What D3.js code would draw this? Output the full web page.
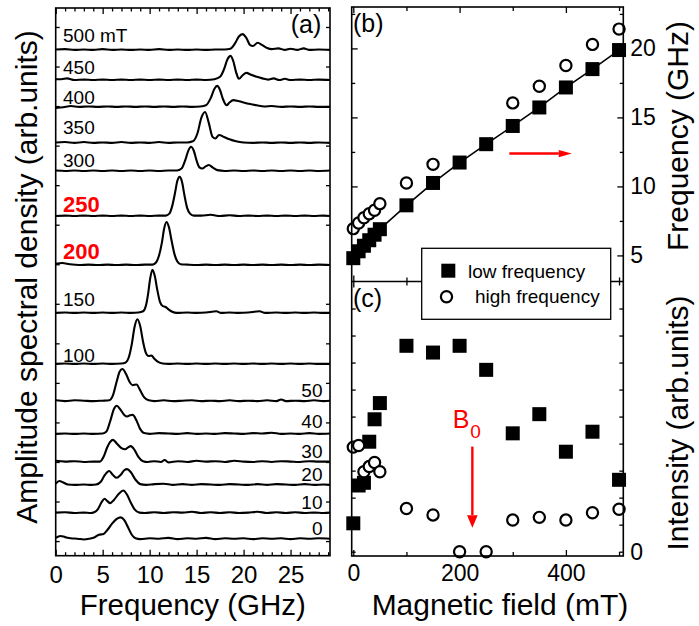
<!DOCTYPE html>
<html>
<head>
<meta charset="utf-8">
<script src="https://cdn.jsdelivr.net/npm/d3@7"></script>
<style>
  body { margin: 0; background: #fff; }
  svg { display: block; }
  text { font-family: "Liberation Sans", Arial, Helvetica, sans-serif; fill: #000; }
</style>
</head>
<body>
<svg id="fig" width="699" height="626"></svg>
<script>
// ---------- Panel (a): spectra stacked by applied field ----------
const fieldsA = [0, 10, 20, 30, 40, 50, 100, 150, 200, 250, 300, 350, 400, 450, 500];
// vertical offset of each spectrum (arb. units, 10 per tick)
const offsetsA = [0.5, 7.1, 14.2, 20, 27.1, 35.4, 44.8, 57.7, 69.8, 82.2, 93.6, 100.7, 109.8, 116.6, 124.2];
const labelsA = ["0", "10", "20", "30", "40", "50", "100", "150", "200", "250", "300", "350", "400", "450", "500 mT"];
const highlightA = ["200", "250"];

// spectra: [frequency GHz, amplitude arb. units]
const spec0 = [[0,0.3],[0.5,0.8],[1,0.5],[1.6,0.2],[2.3,0.1],[3,-0.1],[3.6,0.1],[4.1,0.4],[4.6,1.1],[5.1,1.3],[5.5,2.3],[6,3.9],[6.5,5.1],[6.9,5.5],[7.3,4.8],[7.7,3],[8.1,1.1],[8.5,0.2],[9,0],[10,0.2],[11,0.1],[12,0.3],[13,0],[14,0.2],[15,0.1],[16,0.3],[17,0],[18,0.2],[19,0.1],[20,0.2],[21,0],[22,0.2],[23,0.1],[24,0.2],[25,0],[26,0.2],[27,0.1],[28,0.2],[29.2,0.1]];
const spec10 = [[0,0.1],[1,0.2],[2,0],[3,0.1],[3.7,0],[4.1,0.2],[4.5,1.0],[4.9,2.8],[5.2,3.6],[5.5,3.0],[5.8,2.5],[6.2,3.3],[6.7,4.8],[7.2,5.7],[7.6,4.6],[8,2.6],[8.4,0.9],[8.9,0.1],[9.5,0],[10.5,0.2],[11.5,0],[12.5,0.2],[13.5,0.1],[14.5,0.3],[15.5,0],[16.5,0.2],[17.5,0],[18.5,0.2],[19.5,0],[20.5,0.1],[21.5,0.3],[22.5,0],[23.5,0.2],[24.5,0],[25.5,0.2],[26.5,0],[27.5,0.1],[28.5,0],[29.2,0.1]];
const spec20 = [[0,0.3],[0.4,1.0],[0.8,0.6],[1.3,0.1],[2,0],[3,0.1],[3.8,0],[4.3,0.1],[4.8,0.8],[5.2,2.4],[5.7,3.5],[6.1,2.5],[6.5,1.8],[6.9,2.5],[7.3,3.7],[7.6,4.0],[8,3.2],[8.5,1.3],[9,0.2],[9.6,0],[10.5,0.2],[11.5,0.3],[12.5,0],[13.5,0.2],[14.5,0],[15.5,0.2],[16.5,0.1],[17.5,0],[18.5,0.2],[19.5,0.1],[20.5,0],[21.5,0.2],[22.5,0],[23.5,0.2],[24.5,0.1],[25.5,0],[26.5,0.2],[27.5,0],[28.5,0.1],[29.2,0]];
const spec30 = [[0,0.3],[1,0.1],[2,0.2],[3,0],[4,0.1],[4.7,0.1],[5.1,1.3],[5.5,3.8],[5.8,5.1],[6.1,5.6],[6.5,4.7],[7,3.5],[7.4,3.2],[7.7,3.7],[8,4.0],[8.4,3.0],[8.8,1.3],[9.3,0.2],[9.8,0],[10.5,0.2],[11.2,0],[11.6,0.5],[12,-0.1],[13,0.2],[14,0],[15,0.3],[16,0.1],[17,0.2],[18,0],[19,0.3],[20,0.1],[21,0],[22,0.2],[23,0],[24,0.2],[25,0.1],[26,0],[27,0.2],[28,0.1],[29.2,0.1]];
const spec40 = [[0,0],[1,0.1],[2,0],[3,0.1],[4,0],[5,0.1],[5.4,0.6],[5.8,3.2],[6.2,6.3],[6.5,7.1],[6.9,6.1],[7.3,4.8],[7.6,4.4],[7.9,4.7],[8.2,4.8],[8.6,3.4],[9,1.2],[9.4,0.2],[10,0],[11,0.2],[12,0.1],[13,0],[14,0.2],[15,0],[16,0.1],[17,0],[18,0.2],[19,0.1],[20,0],[21,0.2],[22,0.1],[23,0.3],[24,0],[25,0.1],[26,0],[27,0.2],[28,0],[29.2,0.1]];
const spec50 = [[0,0.2],[1,0],[2,0.2],[3,0.1],[4,0],[5,0.1],[5.7,0.2],[6.1,1.5],[6.5,5.0],[6.8,7.4],[7.1,8.1],[7.5,6.8],[7.9,4.7],[8.2,4.0],[8.6,4.2],[9,2.7],[9.4,1.0],[9.9,0.2],[10.5,0],[11.5,0.2],[12.5,0],[13.5,0.1],[14.5,0.2],[15.5,0],[16.5,0.1],[17.5,0],[18.5,0.2],[19.5,0],[20.5,0.1],[21.5,0],[22.5,0.2],[23.5,0],[24,0.4],[24.5,0],[25.5,0.1],[26.5,0],[27.5,0.2],[28.5,0],[29.2,0.1]];
const spec100 = [[0,0],[1,0.1],[2,0],[3,0.1],[4,0],[5,0.1],[6,0],[7,0.1],[7.4,0.3],[7.8,1.8],[8.1,5.0],[8.4,9.4],[8.7,11.3],[9,9.5],[9.3,5.6],[9.6,2.8],[9.9,2.0],[10.2,2.1],[10.5,1.3],[10.9,0.5],[11.4,0.1],[12,0],[13,0.1],[14,0],[15,0.1],[16,0],[17,0.1],[18,0],[19,0.1],[20,0],[21,0.1],[22,0],[23,0.1],[24,0],[25,0.1],[26,0],[27,0.1],[28,0],[29.2,0]];
const spec150 = [[0,0],[1,0.1],[2,0],[3,0.1],[4,0],[5,0.1],[6,0],[7,0.1],[8,0],[8.8,0.1],[9.3,0.4],[9.6,1.8],[9.85,5.0],[10.05,8.6],[10.3,10.9],[10.55,9.3],[10.8,6.0],[11.1,2.8],[11.4,1.7],[11.7,1.5],[12,0.9],[12.4,0.3],[12.9,0],[14,0.1],[15,0],[16,0.1],[17.1,0.4],[17.6,0],[18.5,0.1],[19.5,0],[20.5,0.1],[21.7,0.4],[22.3,0],[23.5,0.1],[24.5,0],[25.5,0.1],[26.5,0],[27.5,0.1],[28.5,0],[29.2,0]];
const spec200 = [[0,0.3],[0.7,0.5],[1.5,0.2],[2.5,0],[3.5,0.1],[4.5,0],[5.5,0.1],[6.5,0],[7.5,0.1],[8.5,0],[9.5,0.1],[10.3,0.1],[10.7,0.7],[11,2.4],[11.3,5.6],[11.55,9.3],[11.8,10.9],[12.05,9.6],[12.35,6.0],[12.65,2.7],[12.95,0.9],[13.3,0.2],[14,0.1],[15,0],[16,0.1],[17,0],[18,0.1],[19,0],[20,0.1],[21,0],[22,0.1],[23,0],[24,0.1],[25,0],[26,0.1],[27,0],[28,0.1],[29.2,0]];
const spec250 = [[0,0],[1,0.1],[2,0],[3,0.1],[4,0],[5,0.1],[6,0],[7,0.1],[8,0],[9,0.1],[10,0],[11,0.1],[11.7,0.1],[12.1,0.6],[12.4,2.5],[12.7,5.8],[12.95,8.9],[13.2,9.9],[13.45,8.6],[13.7,5.3],[14,2.0],[14.3,0.6],[14.7,0.1],[15.5,0.1],[16.5,0.3],[17.5,0],[18.5,0.2],[19.5,0],[20.5,0.1],[21.5,0],[22.5,0.1],[23.5,0],[24.5,0.1],[25.5,0],[26.5,0.1],[27.5,0],[28.5,0.1],[29.2,0]];
const spec300 = [[0,0.1],[1,0],[2,0.1],[3,0],[4,0.1],[5,0],[6,0.1],[7,0],[8,0.1],[9,0],[10,0.1],[11,0],[12,0.1],[12.9,0.1],[13.4,0.6],[13.8,2.8],[14.1,5.0],[14.4,6.1],[14.7,5.1],[15,2.6],[15.3,0.9],[15.6,0.6],[16,1.2],[16.3,1.5],[16.7,0.9],[17.2,0.2],[18,0],[19,0.1],[20,0],[21,0.1],[22,0],[23,0.1],[24,0],[25,0.1],[26,0],[27,0.1],[28,0],[29.2,0.1]];
const spec350 = [[0,0.1],[1,0.2],[2,0],[3,0.2],[4,0],[5,0.1],[6,0],[7,0.2],[8,0],[9,0.1],[10,0],[11,0.2],[12,0],[13,0.1],[14,0.1],[14.6,0.4],[15.1,2.5],[15.5,6.3],[15.9,7.8],[16.3,5.0],[16.7,1.5],[17,1.1],[17.4,2.0],[17.9,1.5],[18.5,0.9],[19.2,0.4],[20,0.1],[21,0],[22,0.1],[23,0],[24,0.1],[25,0],[26,0.1],[27,0],[28,0.1],[29.2,0]];
const spec400 = [[0,-0.3],[0.8,-0.1],[1.6,0.2],[2.5,0],[3.5,0.1],[4.5,0],[5.5,0.1],[6.5,0],[7.5,0.1],[8.5,0],[9.5,0.1],[10.5,0],[11.5,0.1],[12.5,0],[13.5,0.1],[14.5,0],[15.4,0.1],[16,0.4],[16.5,2.2],[16.9,4.6],[17.2,5.3],[17.5,4.2],[17.8,2.0],[18.2,0.4],[18.5,1.1],[18.9,1.7],[19.4,1.5],[20,1.1],[20.7,0.7],[21.4,0.4],[22.2,0.1],[23,0.2],[24,0],[25,0.1],[26,0],[27,0.1],[28,0],[29.2,0]];
const spec450 = [[0,0.2],[0.6,0.2],[1.2,0.4],[2,0],[3,0.1],[4,0],[5,0.1],[6,0],[7,0.1],[8,0],[9,0.1],[10,0],[11,0.1],[12,0],[13,0.1],[14,0],[15,0.1],[16,0],[16.9,0.2],[17.5,0.8],[17.9,2.6],[18.3,5.3],[18.6,6.1],[18.9,4.8],[19.2,2.0],[19.5,0.3],[19.9,1.2],[20.3,1.8],[20.8,1.3],[21.4,0.8],[22,0.4],[22.6,0.1],[23.2,0.4],[23.8,0],[24.4,0.3],[25,0],[26,0.1],[27,0],[28,0.1],[29.2,0]];
const spec500 = [[0,0.1],[1,0.2],[2,0],[3,0.1],[4,0],[5,0.2],[6,0],[7,0.1],[8,0],[9,0.1],[10,0],[11,0.2],[12,0],[13,0.1],[14,0],[15,0.1],[16,0],[17,0.1],[18,0.1],[18.6,0.3],[19.1,1.7],[19.5,3.4],[19.9,4.0],[20.3,3.0],[20.7,1.2],[21,1.0],[21.5,1.8],[22,1.2],[22.5,0.5],[23,0.2],[23.7,0.4],[24.4,0],[25,0.3],[25.7,0],[26.4,0.4],[27,0],[28,0.1],[29.2,0]];
const spectra = [spec0, spec10, spec20, spec30, spec40, spec50, spec100, spec150, spec200, spec250, spec300, spec350, spec400, spec450, spec500];

const freqTicksA = [0, 5, 10, 15, 20, 25];

// ---------- Panel (b): peak frequencies vs field ----------
const fieldsLow = [0, 10, 20, 30, 40, 50, 100, 150, 200, 250, 300, 350, 400, 450, 500];
const lowFreq = [4.8, 5.3, 5.7, 6.1, 6.5, 6.9, 8.63, 10.25, 11.73, 13.06, 14.38, 15.72, 17.17, 18.5, 19.88];
const fieldsHigh = [0, 10, 20, 30, 40, 50, 100, 150, 300, 350, 400, 450, 500];
const highFreq = [6.94, 7.35, 7.73, 8.02, 8.27, 8.75, 10.25, 11.6, 16.05, 17.26, 18.76, 20.29, 21.4];
const freqTicksB = [5, 10, 15, 20];

// ---------- Panel (c): peak intensities vs field ----------
const fieldsInt = [0, 10, 20, 30, 40, 50, 100, 150, 200, 250, 300, 350, 400, 450, 500];
const lowInt = [1.05, 2.45, 2.55, 4.07, 4.9, 5.5, 7.62, 7.37, 7.62, 6.73, 4.38, 5.09, 3.7, 4.44, 2.66];
const highInt = [3.87, 3.93, 2.96, 3.15, 3.3, 2.96, 1.6, 1.36, 0, 0, 1.17, 1.27, 1.17, 1.44, 1.57];
const fieldTicks = [0, 200, 400];
const intTicksLabelled = [0];

// ---------- layout ----------
const svg = d3.select("#fig");
const RED = "#ff0000";
const frameW = 1.6;

const A = { left: 55.7, right: 330, top: 8, bottom: 555.7 };
const R = { left: 351.7, right: 623.3, top: 7, mid: 281.5, bottom: 556 };

const xA = d3.scaleLinear().domain([0, 29.2]).range([A.left, A.right]);
const yA = d3.scaleLinear().domain([-3.7, 134.8]).range([A.bottom, A.top]);
const xR = d3.scaleLinear().domain([-3, 508]).range([R.left, R.right]);
const yB = d3.scaleLinear().domain([3.11, 23.0]).range([R.mid, R.top]);
const yC = d3.scaleLinear().domain([-0.16, 10]).range([R.bottom, R.mid]);

function styleAxis(g, size) {
  g.select(".domain").remove();
  g.selectAll(".tick line").attr("stroke", "#000").attr("stroke-width", 1.3);
  if (!size) {
    g.selectAll(".tick text").remove();
    return;
  }
  g.selectAll(".tick text").attr("font-size", size).attr("fill", "#000")
    .attr("font-family", '"Liberation Sans", Arial, sans-serif');
}
function addAxis(axis, tx, ty, size) {
  const g = svg.append("g").attr("transform", `translate(${tx},${ty})`).call(axis);
  styleAxis(g, size || 0);
  return g;
}
const minorOf = (lo, hi, step, majors) => d3.range(lo, hi + 1e-9, step).filter(v => !majors.some(m => Math.abs(m - v) < 1e-9));

// ---------- panel (a) axes ----------
const minorA = minorOf(0, 29, 1, freqTicksA);
addAxis(d3.axisBottom(xA).tickValues(freqTicksA).tickSizeInner(-6).tickPadding(10.5).tickFormat(d3.format("d")), 0, A.bottom, 24);
addAxis(d3.axisBottom(xA).tickValues(minorA).tickSizeInner(-3.5), 0, A.bottom);
addAxis(d3.axisTop(xA).tickValues(freqTicksA).tickSizeInner(-6), 0, A.top);
addAxis(d3.axisTop(xA).tickValues(minorA).tickSizeInner(-3.5), 0, A.top);
const yTicksA = d3.range(0, 131, 10);
addAxis(d3.axisLeft(yA).tickValues(yTicksA).tickSizeInner(-4), A.left, 0);
addAxis(d3.axisRight(yA).tickValues(yTicksA).tickSizeInner(-4), A.right, 0);

// spectra
const lineA = d3.line().curve(d3.curveMonotoneX);
const traces = svg.append("g");
spectra.forEach((spec, i) => {
  traces.append("path")
    .attr("d", lineA(spec.map(([f, a]) => [xA(f), yA(offsetsA[i] + a)])))
    .attr("fill", "none").attr("stroke", "#000").attr("stroke-width", 2.1)
    .attr("stroke-linejoin", "round");
});

// field labels: lift above the trace baseline and side of placement
const labelLift = [4, 4, 4, 4, 6, 4, 2, 7, 6, 4, 4, 9, 3, 6, 8.3];
const labelRight = [true, true, true, true, true, true, false, false, false, false, false, false, false, false, false];
labelsA.forEach((lab, i) => {
  const hi = highlightA.includes(lab);
  svg.append("text")
    .attr("x", labelRight[i] ? 322.5 : 63)
    .attr("y", yA(offsetsA[i]) - labelLift[i])
    .attr("text-anchor", labelRight[i] ? "end" : "start")
    .attr("font-size", hi ? 22 : 19)
    .attr("font-weight", hi ? "bold" : "normal")
    .style("fill", hi ? RED : "#000")
    .text(lab);
});

svg.append("rect").attr("x", A.left).attr("y", A.top)
  .attr("width", A.right - A.left).attr("height", A.bottom - A.top)
  .attr("fill", "none").attr("stroke", "#000").attr("stroke-width", frameW);

svg.append("text").attr("x", 306).attr("y", 33).attr("text-anchor", "middle")
  .attr("font-size", 25).text("(a)");
svg.append("text").attr("x", (A.left + A.right) / 2).attr("y", 615)
  .attr("text-anchor", "middle").attr("font-size", 29.5).text("Frequency (GHz)");
svg.append("text").attr("transform", "translate(37,277) rotate(-90)")
  .attr("text-anchor", "middle").attr("font-size", 30)
  .text("Amplitude spectral density (arb.units)");

// ---------- right panels axes ----------
const fieldMinor = minorOf(0, 500, 100, fieldTicks);
// (b) top, (b)/(c) divider both sides, (c) bottom
addAxis(d3.axisTop(xR).tickValues(fieldTicks).tickSizeInner(-6), 0, R.top);
addAxis(d3.axisTop(xR).tickValues(fieldMinor).tickSizeInner(-4), 0, R.top);
addAxis(d3.axisBottom(xR).tickValues(fieldTicks).tickSizeInner(-6), 0, R.mid);
addAxis(d3.axisBottom(xR).tickValues(fieldMinor).tickSizeInner(-4), 0, R.mid);
addAxis(d3.axisTop(xR).tickValues(fieldTicks).tickSizeInner(-6), 0, R.mid);
addAxis(d3.axisTop(xR).tickValues(fieldMinor).tickSizeInner(-4), 0, R.mid);
addAxis(d3.axisBottom(xR).tickValues(fieldTicks).tickSizeInner(-6).tickPadding(9).tickFormat(d3.format("d")), 0, R.bottom, 23);
addAxis(d3.axisBottom(xR).tickValues(fieldMinor).tickSizeInner(-4), 0, R.bottom);

// (b) frequency axis
const minorB = [7.5, 12.5, 17.5, 22.5];
addAxis(d3.axisRight(yB).tickValues(freqTicksB).tickSizeInner(-6).tickPadding(7).tickFormat(d3.format("d")), R.right, 0, 23);
addAxis(d3.axisRight(yB).tickValues(minorB).tickSizeInner(-3.5), R.right, 0);
addAxis(d3.axisLeft(yB).tickValues(freqTicksB).tickSizeInner(-6), R.left, 0);
addAxis(d3.axisLeft(yB).tickValues(minorB).tickSizeInner(-3.5), R.left, 0);

// (c) intensity axis: only zero is labelled
const yTicksC = d3.range(1, 10, 1);
addAxis(d3.axisRight(yC).tickValues(intTicksLabelled).tickSizeInner(-4).tickPadding(7).tickFormat(d3.format("d")), R.right, 0, 23);
addAxis(d3.axisRight(yC).tickValues(yTicksC).tickSizeInner(-4), R.right, 0);
addAxis(d3.axisLeft(yC).tickValues([0].concat(yTicksC)).tickSizeInner(-4), R.left, 0);

// ---------- (b) marks ----------
const SQ = 14, CR = 5.6;
const lowPts = fieldsLow.map((b, i) => [b, lowFreq[i]]);
svg.append("path")
  .attr("d", d3.line()(lowPts.map(([b, f]) => [xR(b), yB(f)])))
  .attr("fill", "none").attr("stroke", "#000").attr("stroke-width", 1.6);
svg.append("g").selectAll("rect").data(lowPts).join("rect")
  .attr("x", d => xR(d[0]) - SQ / 2).attr("y", d => yB(d[1]) - SQ / 2)
  .attr("width", SQ).attr("height", SQ).attr("fill", "#000");
svg.append("g").selectAll("circle").data(fieldsHigh.map((b, i) => [b, highFreq[i]])).join("circle")
  .attr("cx", d => xR(d[0])).attr("cy", d => yB(d[1])).attr("r", CR)
  .attr("fill", "#fff").attr("stroke", "#000").attr("stroke-width", 2.2);

// red arrow helper
function arrow(x1, y1, x2, y2, head, half, w) {
  const ang = Math.atan2(y2 - y1, x2 - x1);
  const bx = x2 - head * Math.cos(ang), by = y2 - head * Math.sin(ang);
  svg.append("line").attr("x1", x1).attr("y1", y1).attr("x2", bx).attr("y2", by)
    .attr("stroke", RED).attr("stroke-width", w);
  const px = -Math.sin(ang) * half, py = Math.cos(ang) * half;
  svg.append("path").attr("d", `M${x2},${y2}L${bx + px},${by + py}L${bx - px},${by - py}Z`).attr("fill", RED);
}
// arrow pointing to the right-hand frequency axis
arrow(xR(293.6), yB(12.38), xR(411), yB(12.38), 13, 3.6, 2.4);

// ---------- (c) marks ----------
svg.append("g").selectAll("rect").data(fieldsInt.map((b, i) => [b, lowInt[i]])).join("rect")
  .attr("x", d => xR(d[0]) - SQ / 2).attr("y", d => yC(d[1]) - SQ / 2)
  .attr("width", SQ).attr("height", SQ).attr("fill", "#000");
svg.append("g").selectAll("circle").data(fieldsInt.map((b, i) => [b, highInt[i]])).join("circle")
  .attr("cx", d => xR(d[0])).attr("cy", d => yC(d[1])).attr("r", CR)
  .attr("fill", "#fff").attr("stroke", "#000").attr("stroke-width", 2.2);

// B0 marker
arrow(xR(224), yC(3.89), xR(224), yC(0.89), 12.5, 5.3, 2.4);
const b0 = svg.append("text").attr("x", xR(187)).attr("y", 428.3).attr("font-size", 25).style("fill", RED);
b0.append("tspan").text("B");
b0.append("tspan").attr("font-size", 19).attr("dy", 10).attr("dx", 1).text("0");

// frames of the right panels
svg.append("rect").attr("x", R.left).attr("y", R.top)
  .attr("width", R.right - R.left).attr("height", R.bottom - R.top)
  .attr("fill", "none").attr("stroke", "#000").attr("stroke-width", frameW);
svg.append("line").attr("x1", R.left).attr("x2", R.right).attr("y1", R.mid).attr("y2", R.mid)
  .attr("stroke", "#000").attr("stroke-width", frameW);

// legend
const lg = svg.append("g");
lg.append("rect").attr("x", 421.7).attr("y", 248.3).attr("width", 189).attr("height", 71)
  .attr("fill", "#fff").attr("stroke", "#000").attr("stroke-width", 1.3);
lg.append("rect").attr("x", 448.3 - SQ / 2).attr("y", 270.7 - SQ / 2).attr("width", SQ).attr("height", SQ).attr("fill", "#000");
lg.append("text").attr("x", 468).attr("y", 278.3).attr("font-size", 19).text("low frequency");
lg.append("circle").attr("cx", 446.5).attr("cy", 296.7).attr("r", CR)
  .attr("fill", "#fff").attr("stroke", "#000").attr("stroke-width", 2.2);
lg.append("text").attr("x", 475).attr("y", 303.3).attr("font-size", 19).text("high frequency");

// panel labels and titles
svg.append("text").attr("x", 353).attr("y", 31.7).attr("font-size", 25).text("(b)");
svg.append("text").attr("x", 353).attr("y", 306.7).attr("font-size", 25).text("(c)");
svg.append("text").attr("x", 500).attr("y", 615).attr("text-anchor", "middle")
  .attr("font-size", 30).text("Magnetic field (mT)");
svg.append("text").attr("transform", "translate(688,136) rotate(-90)")
  .attr("text-anchor", "middle").attr("font-size", 30).text("Frequency (GHz)");
svg.append("text").attr("transform", "translate(688,423) rotate(-90)")
  .attr("text-anchor", "middle").attr("font-size", 30).text("Intensity (arb.units)");
</script>
</body>
</html>
